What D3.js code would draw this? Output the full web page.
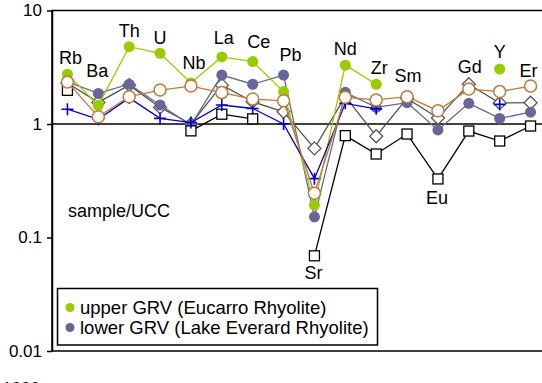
<!DOCTYPE html>
<html>
<head>
<meta charset="utf-8">
<script src="https://cdn.jsdelivr.net/npm/d3@7"></script>
<style>
  html, body { margin: 0; padding: 0; background: #fff; }
  svg { display: block; font-family: "Liberation Sans", Arial, sans-serif; }
</style>
</head>
<body>
<svg id="chart" width="542" height="383"></svg>
<script>
// Trace elements, normalised to upper continental crust
const elements = ["Rb","Ba","Th","U","Nb","La","Ce","Pb","Sr","Nd","Zr","Sm","Eu","Gd","Y","Er"];

const upperGRV   = [2.75, 1.46, 4.8, 4.2, 2.3, 3.9, 3.55, 1.93, 0.193, 3.3, 2.24, null, null, null, 3.05, null];
const lowerGRV   = [2.35, 1.86, 2.24, 1.47, 0.98, 2.7, 2.24, 2.7, 0.152, 1.9, 1.40, 1.54, 0.886, 1.52, 1.12, 1.27];
const openCircle = [2.34, 1.16, 1.74, 1.99, 2.16, 1.89, 1.66, 1.6, 0.245, 1.72, 1.63, 1.74, 1.31, 2.03, 1.93, 2.16];
const diamonds   = [2.3, 1.55, 2.2, 1.4, 1.0, 2.2, 1.57, 1.28, 0.61, 1.75, 0.78, 1.68, 1.13, 2.24, 1.53, 1.54];
const crosses    = [1.35, 1.1, 1.7, 1.12, 1.03, 1.47, 1.37, 1.0, 0.33, 1.52, 1.36, null, null, null, 1.49, null];
const squares    = [1.98, null, null, null, 0.87, 1.22, 1.11, null, 0.069, 0.79, 0.544, 0.816, 0.328, 0.867, 0.708, 0.96];

const yTicks = [10, 1, 0.1, 0.01];
const yTickLabels = ["10", "1", "0.1", "0.01"];

// Element labels and their baselines
const labelPos = [
  ["Rb", 64], ["Ba", 77], ["Th", 37], ["U", 44], ["Nb", 69], ["La", 44], ["Ce", 48], ["Pb", 61],
  ["Sr", 279], ["Nd", 55], ["Zr", 74], ["Sm", 82], ["Eu", 204], ["Gd", 73], ["Y", 58], ["Er", 77]
];
const labelDx = { Rb: 3, Ba: -1, Nb: 3, La: 2, Ce: 6, Pb: 7, Sr: -1, Zr: 3, Sm: 1, Eu: -1, Gd: 1, Er: -2 };

const legendItems = [
  { text: "upper GRV (Eucarro Rhyolite)", color: "#99cc00" },
  { text: "lower GRV (Lake Everard Rhyolite)", color: "#666699" }
];

const svg = d3.select("#chart");
const plotL = 52, plotR = 546, plotT = 10.5, plotB = 351;

const x = d3.scalePoint().domain(elements).range([plotL, plotR]).padding(0.5);
const y = d3.scaleLog().domain([0.01, 10]).range([plotB, plotT]);

// Frame
svg.append("rect")
  .attr("x", plotL).attr("y", plotT)
  .attr("width", plotR - plotL).attr("height", plotB - plotT)
  .attr("fill", "none").attr("stroke", "#000").attr("stroke-width", 1.5);

// Y axis
const yAxis = d3.axisLeft(y)
  .tickValues(yTicks)
  .tickFormat((d, i) => yTickLabels[i])
  .tickSize(5).tickSizeOuter(0).tickPadding(5);
const ga = svg.append("g").attr("transform", `translate(${plotL},0)`).call(yAxis);
ga.select(".domain").attr("stroke", "#000").attr("stroke-width", 1.5);
ga.selectAll(".tick line").attr("stroke", "#000").attr("stroke-width", 1.5);
ga.selectAll(".tick text").attr("font-size", 17).attr("fill", "#000")
  .attr("font-family", "Liberation Sans, Arial, sans-serif");

// Reference line at 1
svg.append("line")
  .attr("x1", plotL).attr("x2", plotR)
  .attr("y1", y(1)).attr("y2", y(1))
  .attr("stroke", "#000").attr("stroke-width", 1.5);

function pts(vals) {
  return elements.map((e, i) => ({ e, v: vals[i] }));
}
const line = d3.line()
  .defined(d => d.v != null)
  .x(d => x(d.e)).y(d => y(d.v));

function drawLine(vals, color, w) {
  svg.append("path").datum(pts(vals))
    .attr("d", line).attr("fill", "none")
    .attr("stroke", color).attr("stroke-width", w);
}

function markerGroup(vals) {
  return svg.append("g").selectAll("g")
    .data(pts(vals).filter(d => d.v != null))
    .join("g")
    .attr("transform", d => `translate(${x(d.e)},${y(d.v)})`);
}

// Diamonds
drawLine(diamonds, "#555555", 1.3);
markerGroup(diamonds).append("path")
  .attr("d", "M0,-6.5L6.5,0L0,6.5L-6.5,0Z")
  .attr("fill", "#fff").attr("stroke", "#555555").attr("stroke-width", 1.3);

// Lower GRV
drawLine(lowerGRV, "#666699", 1.3);
markerGroup(lowerGRV).append("circle").attr("r", 5.5).attr("fill", "#666699");

// Upper GRV
drawLine(upperGRV, "#99cc00", 1.3);
markerGroup(upperGRV).append("circle").attr("r", 5.5).attr("fill", "#99cc00");

// Squares
drawLine(squares, "#000", 1.3);
markerGroup(squares).append("rect")
  .attr("x", -5).attr("y", -5).attr("width", 10).attr("height", 10)
  .attr("fill", "#fff").attr("stroke", "#000").attr("stroke-width", 1.3);

// Crosses
drawLine(crosses, "#0000cc", 1.3);
markerGroup(crosses).append("path")
  .attr("d", "M-6,0H6M0,-6V6")
  .attr("stroke", "#0000cc").attr("stroke-width", 1.6);

// Open circles
drawLine(openCircle, "#c07838", 1.3);
markerGroup(openCircle).append("circle").attr("r", 6)
  .attr("fill", "#fff").attr("stroke", "#c07838").attr("stroke-width", 1.5);

// Element labels
svg.append("g").selectAll("text")
  .data(labelPos)
  .join("text")
  .attr("x", d => x(d[0]) + (labelDx[d[0]] || 0))
  .attr("y", d => d[1])
  .attr("text-anchor", "middle")
  .attr("font-size", 18)
  .attr("fill", "#000")
  .text(d => d[0]);

svg.append("text")
  .attr("x", 68).attr("y", 217)
  .attr("font-size", 18).attr("fill", "#000")
  .text("sample/UCC");

// Legend
const lg = svg.append("g");
lg.append("rect")
  .attr("x", 57.5).attr("y", 288.5).attr("width", 320).attr("height", 56.5)
  .attr("fill", "#fff").attr("stroke", "#000").attr("stroke-width", 1.5);
legendItems.forEach((d, i) => {
  const cy = 307.5 + i * 20;
  lg.append("circle").attr("cx", 70).attr("cy", cy).attr("r", 4.5).attr("fill", d.color);
  lg.append("text").attr("x", 80).attr("y", cy + 6)
    .attr("font-size", 18.5).attr("fill", "#000").text(d.text);
});

// Top of the next panel's axis label, cut by the lower edge
svg.append("text")
  .attr("x", 40).attr("y", 393.5).attr("text-anchor", "end")
  .attr("font-size", 17).attr("fill", "#000").text("1000");
</script>
</body>
</html>
